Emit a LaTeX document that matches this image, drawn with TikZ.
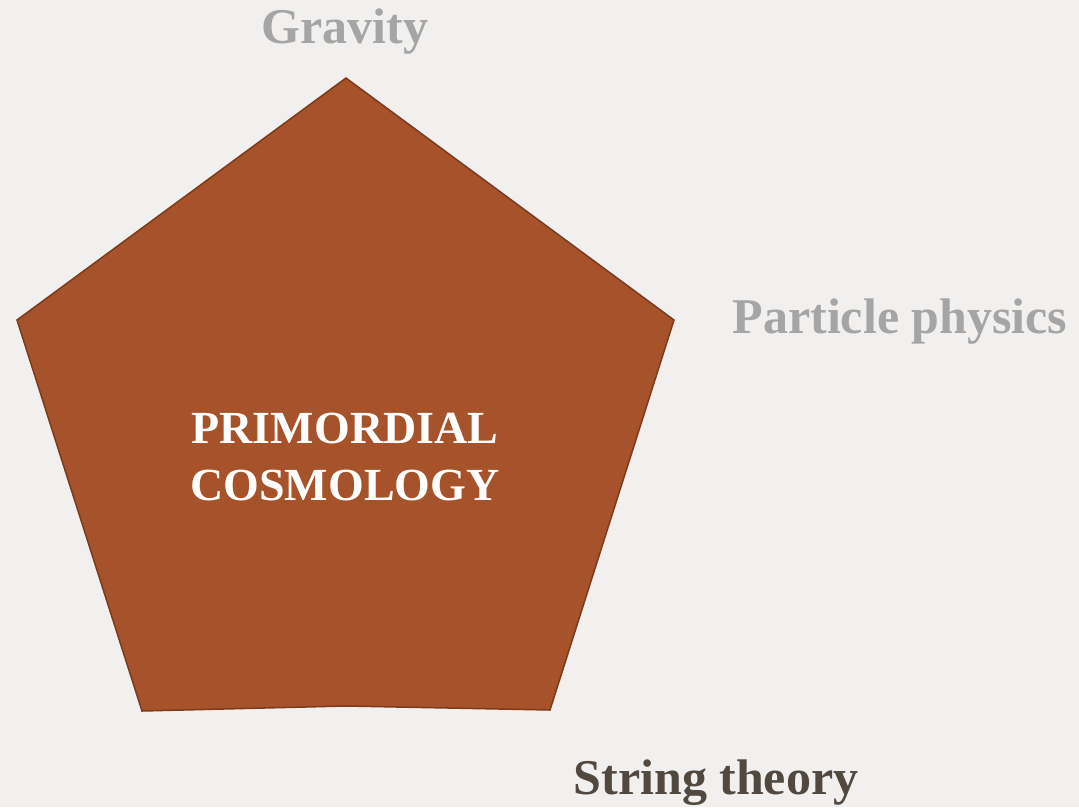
\documentclass[tikz,border=0pt]{standalone}
\usepackage{fontspec}
\setmainfont{Liberation Serif}
\usepackage{tikz}
\usetikzlibrary{positioning}
\definecolor{paper}{HTML}{F1F0EE}
\definecolor{rust}{HTML}{A6522A}
\definecolor{rustline}{HTML}{7E3A1A}
\definecolor{lightlabel}{HTML}{A5A5A5}
\definecolor{darklabel}{HTML}{51493F}
\newcommand{\bigfont}{\fontsize{50}{60}\selectfont\bfseries}

\begin{document}
\begin{tikzpicture}[x=1pt,y=-1pt,
  field/.style={anchor=base, text=lightlabel, font=\bigfont, inner sep=0pt},
  core/.style={anchor=base, text=white, align=center, inner sep=0pt,
    font=\fontsize{46}{57}\selectfont\bfseries}]
\useasboundingbox [fill=paper] (0,0) rectangle (1079,807);

\coordinate (top) at (346,78);
\coordinate (right) at (674,320);
\coordinate (botright) at (550,710);
\coordinate (botmid) at (346,706);
\coordinate (botleft) at (142,711);
\coordinate (left) at (17,320);
\draw [fill=rust, draw=rustline, line width=1.5pt, line join=miter]
  (top) -- (right) -- (botright) -- (botmid) -- (botleft) -- (left) -- cycle;

\node (cosmo) [core] at (345,500) {PRIMORDIAL\\COSMOLOGY};
\node (gravity) [field] at (345,43) {Gravity};
\node (particle) [field] at (900,333) {Particle physics};
\node (string) [field, text=darklabel] at (716,794) {String theory};
\end{tikzpicture}
\end{document}
